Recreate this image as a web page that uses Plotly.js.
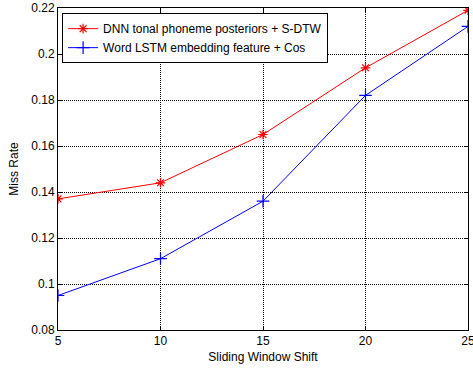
<!DOCTYPE html>
<html><head><meta charset="utf-8">
<script src="https://cdn.plot.ly/plotly-3.0.1.min.js"></script>
<style>html,body{margin:0;padding:0;background:#fff}</style>
</head><body>
<div id="chart" style="width:473px;height:368px"></div>
<script>
var shifts = [5, 10, 15, 20, 25];
var dnnMiss = [0.137, 0.144, 0.165, 0.194, 0.219];
var lstmMiss = [0.095, 0.111, 0.136, 0.182, 0.212];
var names = ['DNN tonal phoneme posteriors + S-DTW', 'Word LSTM embedding feature + Cos'];

var traces = [
  {x: shifts, y: dnnMiss, name: names[0], mode: 'lines+markers', type: 'scatter',
   line: {color: '#ff0000', width: 1},
   marker: {symbol: 'asterisk-open', size: 8, color: '#ff0000', line: {color: '#ff0000', width: 1.2}}},
  {x: shifts, y: lstmMiss, name: names[1], mode: 'lines+markers', type: 'scatter',
   line: {color: '#0000ff', width: 1},
   marker: {symbol: 'cross-thin-open', size: 9, color: '#0000ff', line: {color: '#0000ff', width: 1.2}}}
];
var axisCommon = {
  showline: true, linecolor: '#000', linewidth: 1, mirror: 'ticks',
  ticks: 'inside', ticklen: 4, tickcolor: '#000',
  showgrid: true, gridcolor: '#000', griddash: '1px,1px', gridwidth: 1,
  zeroline: false, tickfont: {size: 12, color: '#000', family: 'Liberation Sans, Arial, sans-serif'}
};
var layout = {
  width: 473, height: 368,
  margin: {l: 58, r: 5, t: 8, b: 38},
  paper_bgcolor: '#fff', plot_bgcolor: '#fff',
  font: {family: 'Liberation Sans, Arial, sans-serif', color: '#000'},
  showlegend: true,
  legend: {x: 0.01, y: 0.984, xanchor: 'left', yanchor: 'top', bgcolor: '#fff',
           bordercolor: '#000', borderwidth: 1, font: {size: 12, color: '#000'},
           tracegroupgap: 0},
  xaxis: Object.assign({}, axisCommon, {range: [5, 25], tickvals: [5, 10, 15, 20, 25],
           ticklabeloverflow: 'allow',
           title: {text: 'Sliding Window Shift', font: {size: 12}, standoff: 5}}),
  yaxis: Object.assign({}, axisCommon, {range: [0.08, 0.22], tickvals: [0.08, 0.1, 0.12, 0.14, 0.16, 0.18, 0.2, 0.22],
           ticklabeloverflow: 'allow',
           title: {text: 'Miss Rate', font: {size: 12}, standoff: 10}})
};
Plotly.newPlot('chart', traces, layout, {displayModeBar: false, staticPlot: true});
</script>
</body></html>
